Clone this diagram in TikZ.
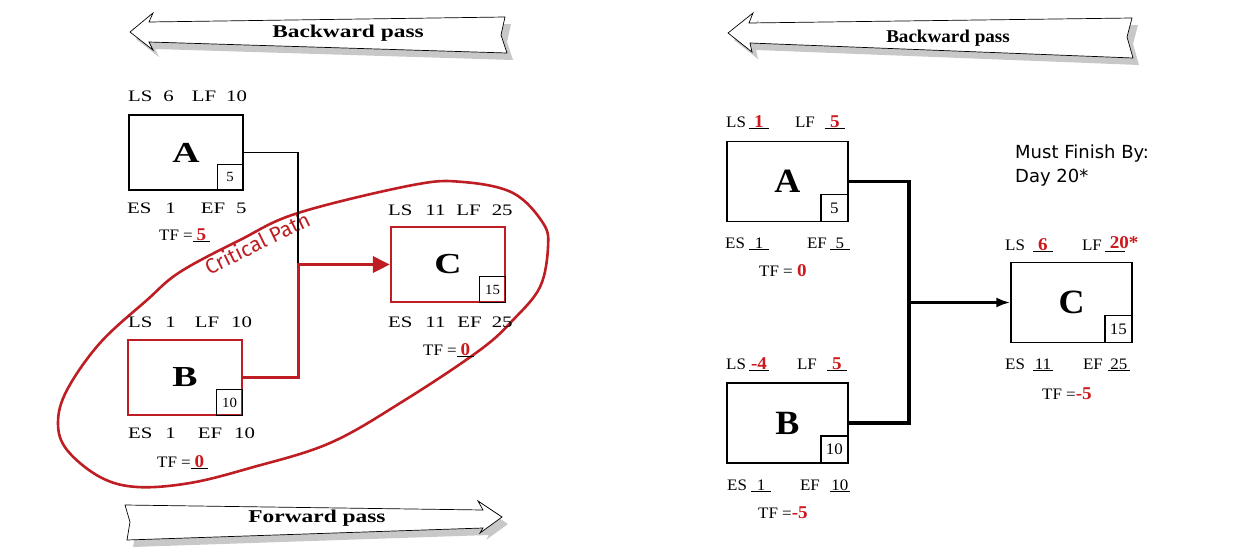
\documentclass[tikz,border=0pt]{standalone}
\usepackage{fontspec}
\setmainfont{Liberation Serif}[FakeStretch=1.06]
\newfontfamily\widefont{Liberation Serif}[FakeStretch=1.3]
\newfontfamily\notefont{DejaVu Sans}
\newfontfamily\handfont{Fira Sans}
\usetikzlibrary{arrows.meta}

\definecolor{critred}{RGB}{190,30,35}
\definecolor{numred}{RGB}{205,25,30}
\definecolor{shadegray}{RGB}{200,200,200}

\newcommand{\rednum}[1]{\textcolor{numred}{\bfseries\fontsize{18}{18}\selectfont #1}}
\newcommand{\blank}[2][20pt]{\underline{\makebox[#1]{#2}}}

\begin{document}
\begin{tikzpicture}[x=1pt, y=-1pt,
    act/.style={draw, line width=1.3pt, minimum width=114, minimum height=75, inner sep=0,
      font=\widefont\fontsize{29}{29}\selectfont\bfseries},
    critact/.style={act, draw=critred, line width=2.2pt},
    ract/.style={draw, line width=1.3pt, minimum width=121, minimum height=80, inner sep=0,
      font=\fontsize{34}{34}\selectfont\bfseries},
    dur/.style={draw, line width=0.9pt, minimum size=26, inner sep=0, anchor=south east,
      font=\fontsize{14}{14}\selectfont},
    rdur/.style={dur, line width=1.6pt, minimum size=27, font=\fontsize{16}{16}\selectfont},
    lbl/.style={anchor=base west, inner sep=0, font=\widefont\fontsize{16}{16}\selectfont},
    rlbl/.style={anchor=base west, inner sep=0, font=\fontsize{16}{16}\selectfont},
    banner/.style={draw, line width=0.7pt, fill=white},
    bannershadow/.style={fill=shadegray},
    lpass/.style={font=\widefont\bfseries\fontsize{18}{18}\selectfont},
    rpass/.style={font=\bfseries\fontsize{18}{18}\selectfont},
    link/.style={line width=1.9pt},
    critlink/.style={draw=critred, line width=3pt, -{Triangle[length=17pt,width=16pt]}},
    rlink/.style={line width=3.2pt}]

  \useasboundingbox (0,0) rectangle (1234,554);

  % pass banners
  \foreach \s/\sty in {(6,7)/bannershadow, (0,0)/banner} {
    \path[\sty, shift={\s}] (130,32) -- (153,13) -- (149,22) -- (505,17) -- (501,35)
      -- (507,53) -- (149,42) -- (153,50) -- cycle;
    \path[\sty, shift={\s}] (125,505) -- (130,522) -- (127,540) -- (483,528) -- (480,533)
      -- (502,517) -- (478,501) -- (483,510) -- cycle;
    \path[\sty, shift={\s}] (728,33) -- (753,13) -- (749,23) -- (1132,18) -- (1127,37)
      -- (1133,58) -- (750,43) -- (752,52) -- cycle;
  }
  \node[lpass] (lback) at (348,33) {Backward pass};
  \node[lpass] (lfwd) at (317,518) {Forward pass};
  \node[rpass] (rback) at (948,38) {Backward pass};

  % critical path loop
  \draw[critred, line width=2.6pt] plot[smooth cycle, tension=0.6] coordinates {
    (298,213) (413,185) (463,182) (513,193) (543,223) (548,247) (540,287) (513,320)
    (480,350) (405,400) (330,443) (250,468) (190,483) (137,487) (100,477) (67,450)
    (58,423) (67,390) (100,343) (147,300) (180,272) (240,240)};
  \node[critred, font=\handfont\fontsize{21}{21}\selectfont, rotate=26] (crit) at (257,243) {Critical Path};

  % left network
  \node[act] (lA) at (186,152.5) {A};
  \node[dur] (lAd) at (lA.south east) {5};
  \node[critact] (lB) at (185,377.5) {B};
  \node[dur] (lBd) at (lB.south east) {10};
  \node[critact] (lC) at (448,264.5) {C};
  \node[dur] (lCd) at (lC.south east) {15};
  \coordinate (ljoin) at (298,264.5);

  \draw[link] (lA.east) -| (ljoin);
  \draw[critlink] (lB.east) -| (ljoin) -- (lC.west);

  \node[lbl] (lAtop) at (128,101) {LS\hspace{11pt}6\hspace{18pt}LF\hspace{10pt}10};
  \node[lbl] (lAbot) at (127,213) {ES\hspace{14pt}1\hspace{25pt}EF\hspace{11pt}5};
  \node[rlbl] (lAtf) at (159,240) {TF =\blank[17pt]{\rednum{5}}};
  \node[lbl] (lBtop) at (128,327) {LS\hspace{13pt}1\hspace{19pt}LF\hspace{12pt}10};
  \node[lbl] (lBbot) at (128,438) {ES\hspace{13pt}1\hspace{22pt}EF\hspace{12pt}10};
  \node[rlbl] (lBtf) at (157,467) {TF =\blank[17pt]{\rednum{0}}};
  \node[lbl] (lCtop) at (388,215) {LS\hspace{13pt}11\hspace{11pt}LF\hspace{11pt}25};
  \node[lbl] (lCbot) at (388,327) {ES\hspace{13pt}11\hspace{12pt}EF\hspace{10pt}25};
  \node[rlbl] (lCtf) at (423,355) {TF =\blank[17pt]{\rednum{0}}};

  % right network
  \node[ract] (rA) at (787.5,181.5) {A};
  \node[rdur] (rAd) at (rA.south east) {5};
  \node[ract] (rB) at (787.5,423) {B};
  \node[rdur] (rBd) at (rB.south east) {10};
  \node[ract] (rC) at (1071.5,302.5) {C};
  \node[rdur] (rCd) at (rC.south east) {15};
  \coordinate (rjoin) at (909,302.5);

  \draw[rlink] (rA.east) -| (rjoin) |- (rB.east);
  \draw[rlink, -{Latex[length=14pt,width=10pt]}] (rjoin) -- (rC.west);

  \node[rlbl] (rAtop) at (726,127) {LS\hspace{3pt}\blank{\rednum{1}}\hspace{26pt}LF\hspace{10pt}\blank{\rednum{5}}};
  \node[rlbl] (rAbot) at (725,248) {ES\hspace{4pt}\blank{1}\hspace{38pt}EF\hspace{3pt}\blank{5}};
  \node[rlbl] (rAtf) at (759,276) {TF = \rednum{0}};
  \node[rlbl] (rBtop) at (726,369) {LS\hspace{3pt}\blank{\rednum{-4}}\hspace{28pt}LF\hspace{10pt}\blank{\rednum{5}}};
  \node[rlbl] (rBbot) at (727,490) {ES\hspace{4pt}\blank{1}\hspace{29pt}EF\hspace{10pt}\blank{10}};
  \node[rlbl] (rBtf) at (758,518) {TF =\rednum{-5}};
  \node[rlbl] (rCtop) at (1005,250) {LS\hspace{8pt}\blank{\rednum{6}}\hspace{29pt}LF\hspace{3pt}\underline{\makebox[20pt][l]{\hspace{5pt}\raisebox{2pt}{\rednum{20*}}}}};
  \node[rlbl] (rCbot) at (1005,369) {ES\hspace{8pt}\blank{11}\hspace{30pt}EF\hspace{5pt}\blank[22pt]{25}};
  \node[rlbl] (rCtf) at (1042,399) {TF =\rednum{-5}};

  % deadline note
  \node[anchor=north west, align=left, inner sep=0, font=\notefont\fontsize{18}{24}\selectfont]
    (deadline) at (1015,145) {Must Finish By:\\Day 20*};

\end{tikzpicture}
\end{document}
